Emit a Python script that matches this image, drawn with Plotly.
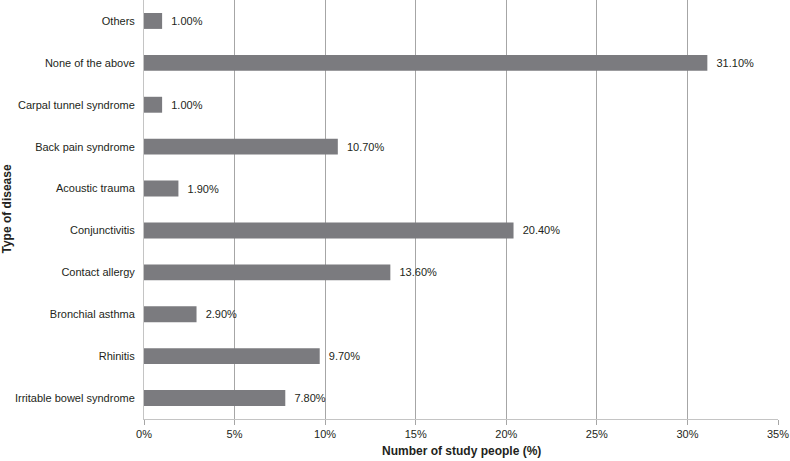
import plotly.graph_objects as go

categories = ["Irritable bowel syndrome", "Rhinitis", "Bronchial asthma", "Contact allergy",
              "Conjunctivitis", "Acoustic trauma", "Back pain syndrome",
              "Carpal tunnel syndrome", "None of the above", "Others"]
values = [7.8, 9.7, 2.9, 13.6, 20.4, 1.9, 10.7, 1.0, 31.1, 1.0]
x_ticks = [0, 5, 10, 15, 20, 25, 30, 35]
x_tick_labels = ["0%", "5%", "10%", "15%", "20%", "25%", "30%", "35%"]

fig = go.Figure(go.Bar(
    x=values, y=categories, orientation="h",
    marker=dict(color="#7b7b7f", line=dict(width=0)),
    texttemplate="  %{x:.2f}%", textposition="outside",
    textfont=dict(size=11, color="#231f20", family="Liberation Sans, Arial"),
    cliponaxis=False,
))

fig.update_layout(
    width=790, height=461,
    margin=dict(l=144, r=12, t=0, b=42, autoexpand=False),
    paper_bgcolor="white", plot_bgcolor="white",
    font=dict(family="Liberation Sans, Arial", size=11, color="#231f20"),
    bargap=0.62, showlegend=False,
    xaxis=dict(
        range=[0, 35], tickvals=x_ticks, ticktext=x_tick_labels,
        showgrid=True, gridcolor="#a6a6a6", gridwidth=1,
        showline=True, linecolor="#c4c4c4", linewidth=1,
        ticks="outside", ticklen=5, tickcolor="#a6a6a6",
        zeroline=False, automargin=False,
    ),
    yaxis=dict(
        showgrid=False, showline=True, linecolor="#c4c4c4", linewidth=1,
        ticks="", ticklabelstandoff=6, zeroline=False, automargin=False,
    ),
    annotations=[
        dict(text="<b>Number of study people (%)</b>", xref="paper", yref="paper",
             x=0.5, y=0, yshift=-32, xanchor="center", yanchor="middle",
             showarrow=False, font=dict(size=12)),
        dict(text="<b>Type of disease</b>", xref="paper", yref="paper",
             x=0, xshift=-138, y=0.5, textangle=-90, xanchor="center", yanchor="middle",
             showarrow=False, font=dict(size=12)),
    ],
)

fig.write_html("out.html", config={"displayModeBar": False},
               post_script="document.body.style.margin='0';document.body.style.overflow='hidden';")
